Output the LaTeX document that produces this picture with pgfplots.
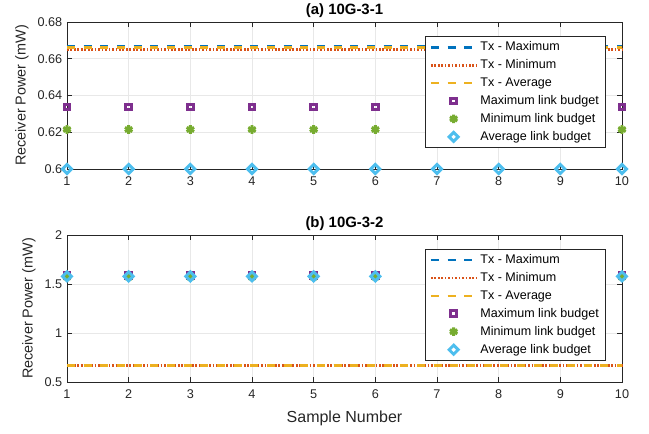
\documentclass[border=0pt]{standalone}
\usepackage{pgfplots}
\pgfplotsset{compat=1.18}
\usepackage{fontspec}
\setmainfont{Liberation Sans}
\definecolor{mblue}{rgb}{0,0.447,0.741}
\definecolor{morange}{rgb}{0.85,0.325,0.098}
\definecolor{myellow}{rgb}{0.929,0.694,0.125}
\definecolor{mpurple}{rgb}{0.494,0.184,0.556}
\definecolor{mgreen}{rgb}{0.466,0.674,0.188}
\definecolor{mcyan}{rgb}{0.301,0.745,0.933}
\definecolor{axgray}{rgb}{0.15,0.15,0.15}
\pgfplotsset{
  common/.style={
    scale only axis, width=416.25pt, height=110.25pt,
    xmin=1, xmax=10, xtick={1,...,10},
    grid=major, grid style={gray!18, line width=0.5pt},
    axis line style={axgray, line width=0.6pt},
    tick style={axgray, line width=0.6pt}, tick align=inside,
    major tick length=4pt,
    ticklabel style={font=\fontsize{9.5}{11}\selectfont, text=axgray},
    xticklabel style={yshift=-2.5pt},
    /pgf/number format/assume math mode=true,
    ylabel style={font=\fontsize{10.8}{12}\selectfont, text=axgray},
    title style={font=\bfseries\fontsize{11.2}{13}\selectfont, yshift=-6pt},
    legend style={font=\fontsize{9.4}{11}\selectfont, draw=axgray, line width=0.6pt, row sep=1.2pt, inner xsep=3pt, inner ysep=2pt},
    legend cell align=left,
    legend image code/.code={\draw[mark repeat=2,mark phase=2] plot coordinates {(0cm,0cm) (0.6cm,0cm) (1.2cm,0cm)};},
  },
  txmax/.style={mblue, line width=2pt, dash pattern=on 6pt off 6.5pt},
  txmin/.style={morange, line width=2pt, dash pattern=on 1.3pt off 1.3pt},
  txavg/.style={myellow, line width=2pt, dash pattern=on 6pt off 6.5pt},
  mmax/.style={only marks, mpurple, mark=square, mark size=2.1pt, line width=2.2pt},
  mmin/.style={only marks, mgreen, mark=asterisk, mark size=3.2pt, line width=2.2pt},
  mavg/.style={only marks, mcyan, mark=square, mark options={rotate=45}, mark size=2.4pt, line width=2.2pt},
}
\begin{document}
\begin{tikzpicture}
\path[use as bounding box] (0pt,0pt) rectangle (486.75pt,324.75pt);
\begin{axis}[common, at={(50.25pt,198pt)}, anchor=south west,
  ymin=0.6, ymax=0.68, ytick={0.6,0.62,0.64,0.66,0.68},
  yticklabel style={/pgf/number format/fixed, /pgf/number format/precision=2},
  ylabel={Receiver Power (mW)},
  title={(a) 10G-3-1},
  legend style={at={(0.971,0.905)}, anchor=north east},
  clip=false]
\addplot[txmax] coordinates {(1,0.6667) (10,0.6667)};
\addlegendentry{Tx - Maximum}
\addplot[txmin] coordinates {(1,0.6652) (10,0.6652)};
\addlegendentry{Tx - Minimum}
\addplot[txavg] coordinates {(1,0.6662) (10,0.6662)};
\addlegendentry{Tx - Average}
\addplot[mmax] coordinates {(1,0.6337) (2,0.6337) (3,0.6337) (4,0.6337) (5,0.6337) (6,0.6337) (10,0.6337)};
\addlegendentry{Maximum link budget}
\addplot[mmin] coordinates {(1,0.6215) (2,0.6215) (3,0.6215) (4,0.6215) (5,0.6215) (6,0.6215) (10,0.6215)};
\addlegendentry{Minimum link budget}
\addplot[mavg] coordinates {(1,0.6) (2,0.6) (3,0.6) (4,0.6) (5,0.6) (6,0.6) (7,0.6) (8,0.6) (9,0.6) (10,0.6)};
\addlegendentry{Average link budget}
\end{axis}
\begin{axis}[common, at={(50.25pt,38.25pt)}, anchor=south west,
  ymin=0.5, ymax=2, ytick={0.5,1,1.5,2},
  ylabel={Receiver Power (mW)},
  xlabel={Sample Number},
  xlabel style={font=\fontsize{12}{13}\selectfont, text=axgray, yshift=-2pt},
  title={(b) 10G-3-2},
  legend style={at={(0.971,0.906)}, anchor=north east},
  clip=false]
\addplot[txmax] coordinates {(1,0.667) (10,0.667)};
\addlegendentry{Tx - Maximum}
\addplot[txmin] coordinates {(1,0.667) (10,0.667)};
\addlegendentry{Tx - Minimum}
\addplot[txavg] coordinates {(1,0.667) (10,0.667)};
\addlegendentry{Tx - Average}
\addplot[mmax] coordinates {(1,1.585) (2,1.585) (3,1.585) (4,1.585) (5,1.585) (6,1.585) (10,1.585)};
\addlegendentry{Maximum link budget}
\addplot[mmin] coordinates {(1,1.57) (2,1.57) (3,1.57) (4,1.57) (5,1.57) (6,1.57) (10,1.57)};
\addlegendentry{Minimum link budget}
\addplot[mavg] coordinates {(1,1.578) (2,1.578) (3,1.578) (4,1.578) (5,1.578) (6,1.578) (10,1.578)};
\addlegendentry{Average link budget}
\end{axis}
\end{tikzpicture}
\end{document}
